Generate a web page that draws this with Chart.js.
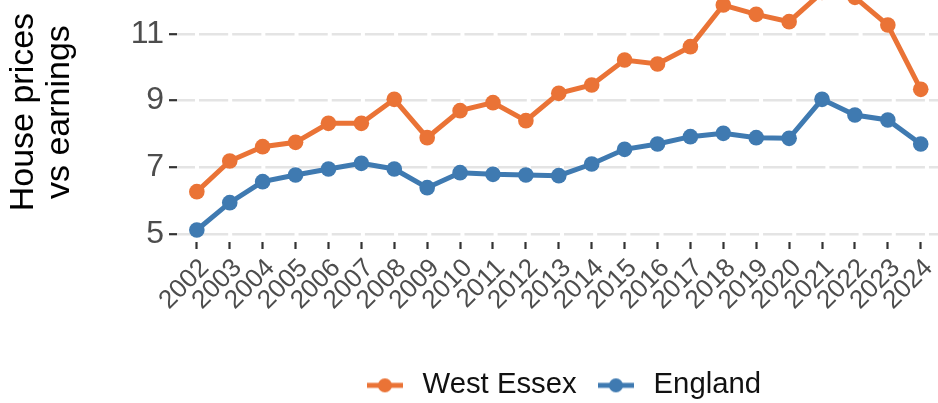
<!DOCTYPE html>
<html><head><meta charset="utf-8">
<script src="https://cdn.jsdelivr.net/npm/chart.js@4.4.1/dist/chart.umd.min.js"></script>
<style>
html,body{margin:0;padding:0;background:#fff;}
#wrap{position:relative;width:938px;height:403px;overflow:hidden;background:#fff;}
#box{position:absolute;left:0;top:-42px;width:1123px;height:452px;}
</style></head><body>
<div id="wrap"><div id="box"><canvas id="c" width="1123" height="452"></canvas></div></div>
<script>
const years = [2002,2003,2004,2005,2006,2007,2008,2009,2010,2011,2012,2013,2014,2015,2016,2017,2018,2019,2020,2021,2022,2023,2024];
const westEssex = [6.27,7.19,7.62,7.75,8.32,8.32,9.04,7.89,8.70,8.94,8.40,9.22,9.47,10.22,10.10,10.62,11.87,11.59,11.37,12.25,12.10,11.27,9.34];
const england = [5.12,5.94,6.57,6.77,6.95,7.12,6.95,6.39,6.84,6.79,6.77,6.75,7.10,7.54,7.70,7.92,8.02,7.89,7.87,9.04,8.57,8.42,7.70];
const yTicks = [5,7,9,11];
const seriesNames = ['West Essex','England'];
const yTitle = ['House prices','vs earnings'];

const ORANGE = '#EA7336';
const BLUE = '#3F7AB1';
const FONT = "'Liberation Sans', Arial, Helvetica, sans-serif";
Chart.defaults.font.family = FONT;

function legendIcon(color){
  const c = document.createElement('canvas');
  c.width = 36; c.height = 18;
  const g = c.getContext('2d');
  g.strokeStyle = color; g.lineWidth = 5;
  g.beginPath(); g.moveTo(0,9); g.lineTo(36,9); g.stroke();
  g.fillStyle = color; g.beginPath(); g.arc(18,9,7,0,Math.PI*2); g.fill();
  return c;
}
const icons = [legendIcon(ORANGE), legendIcon(BLUE)];

const toPts = arr => years.map((y,i)=>({x:y, y:arr[i]}));

new Chart(document.getElementById('c'), {
  type: 'line',
  data: {
    datasets: [
      {label: seriesNames[0], data: toPts(westEssex), borderColor: ORANGE, backgroundColor: ORANGE,
       borderWidth: 5, pointRadius: 7.8, pointBorderWidth: 0, pointBackgroundColor: ORANGE, tension: 0},
      {label: seriesNames[1], data: toPts(england), borderColor: BLUE, backgroundColor: BLUE,
       borderWidth: 5, pointRadius: 7.8, pointBorderWidth: 0, pointBackgroundColor: BLUE, tension: 0}
    ]
  },
  options: {
    responsive: false,
    animation: false,
    devicePixelRatio: 1,
    layout: {padding: 0},
    plugins: {
      tooltip: {enabled: false},
      legend: {
        position: 'bottom',
        align: 'center',
        labels: {
          usePointStyle: true,
          pointStyleWidth: 46,
          padding: 16.25,
          color: '#111',
          font: {size: 29.3, family: FONT},
          generateLabels: (chart) => {
            const items = Chart.defaults.plugins.legend.labels.generateLabels(chart);
            items.forEach((it,i)=>{ it.pointStyle = icons[i]; });
            return items;
          }
        }
      }
    },
    scales: {
      x: {
        type: 'linear',
        min: 2001.397,
        max: 2029.91,
        afterBuildTicks: (s) => { s.ticks = years.map(v=>({value:v})); },
        afterFit: (s) => { s.height = 112.45; },
        grid: {display: true, drawOnChartArea: false, drawTicks: true, tickLength: 7, tickColor: '#333', tickWidth: 2.2},
        border: {display: false},
        ticks: {autoSkip: false, minRotation: 45, maxRotation: 45, padding: 4, labelOffset: 8, color: '#4D4D4D',
                font: {size: 26, family: FONT}, callback: (v) => String(v)}
      },
      y: {
        type: 'linear',
        min: 4.76,
        max: 12.554,
        afterBuildTicks: (s) => { s.ticks = yTicks.map(v=>({value:v})); },
        afterFit: (s) => { s.width = 177; },
        grid: {display: true, color: '#E4E4E4', lineWidth: 2.4, drawTicks: true, tickLength: 8, tickColor: '#333', tickWidth: 2.2, tickBorderDash: []},
        border: {display: false, dash: [29.18, 4], dashOffset: 11.18},
        ticks: {padding: 5, color: '#4D4D4D', font: {size: 32, family: FONT}, callback: (v) => String(v)},
        title: {display: true, text: yTitle, color: '#000', font: {size: 34, family: FONT, lineHeight: 1.07}, padding: {top: 5, bottom: 0}}
      }
    }
  }
});
</script>
</body></html>
